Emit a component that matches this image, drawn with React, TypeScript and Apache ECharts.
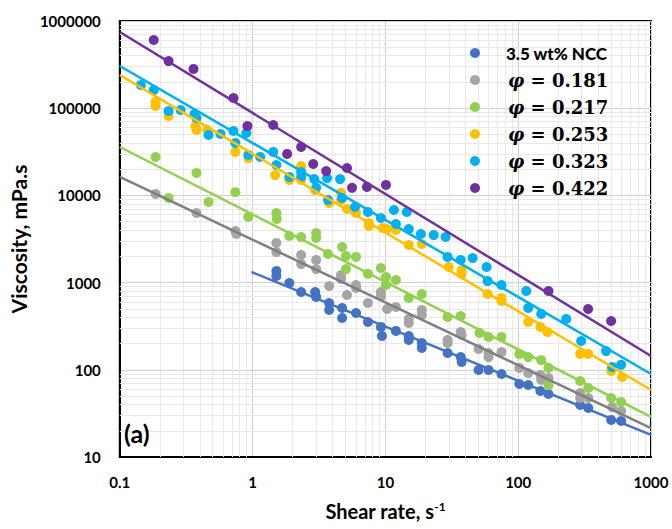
import React, { useEffect, useRef } from "react";
import * as echarts from "echarts";

// ---- data (shear rate [1/s], viscosity [mPa.s]) ----
const seriesNames = ["3.5 wt% NCC", "φ = 0.181", "φ = 0.217", "φ = 0.253", "φ = 0.323", "φ = 0.422"];
const seriesColors = ["#4472C4", "#A5A5A5", "#92D050", "#FFC000", "#00B0F0", "#7030A0"];
const lineColors = ["#4472C4", "#7F7F7F", "#92D050", "#FFC000", "#00B0F0", "#7030A0"];

const ncc = [
  [1.51, 1360], [1.51, 1190], [1.89, 989], [2.32, 780], [2.96, 780], [3.01, 684], [3.77, 583], [3.77, 485],
  [4.72, 511], [4.72, 393], [6.01, 448], [7.39, 353], [9.25, 310], [9.42, 244], [12.0, 279], [15.0, 244],
  [15.0, 220], [18.8, 203], [18.8, 178], [29.4, 156], [36.9, 140], [37.5, 123], [50.3, 99.5], [59.8, 99.5],
  [74.9, 89.5], [102, 68.7], [119, 67], [147, 57.1], [169, 52.8], [293, 39.5], [337, 36.5], [501, 26.6], [596, 25.9],
];
const phi181 = [
  [0.186, 10400], [0.378, 6290], [0.742, 3910], [0.755, 3610], [1.51, 2850], [1.51, 2240], [2.32, 2070], [2.32, 1630],
  [3.01, 1820], [3.01, 1430], [3.77, 914], [4.63, 1220], [4.63, 1100], [5.14, 721], [6.01, 938], [6.01, 867],
  [7.39, 583], [9.25, 780], [9.25, 702], [10.3, 498], [12.0, 525], [15.0, 383], [15.0, 344], [18.8, 485],
  [18.8, 425], [29.4, 220], [29.4, 203], [36.9, 271], [37.5, 251], [50.3, 173], [59.8, 156], [59.8, 140],
  [74.9, 160], [102, 105], [119, 91.9], [147, 87.2], [149, 76.4], [169, 80.5], [293, 54.2], [293, 47.5],
  [337, 47.5], [510, 37.4], [596, 33.7],
];
const phi217 = [
  [0.186, 27600], [0.233, 9330], [0.378, 18100], [0.466, 8400], [0.742, 10900], [0.929, 5650], [1.51, 6290],
  [1.52, 5360], [1.89, 3420], [2.32, 3330], [3.01, 3700], [3.01, 3250], [3.7, 2130], [4.72, 2560], [5.05, 2020],
  [6.01, 1970], [5.05, 1430], [7.39, 1260], [9.25, 1470], [10.1, 1160], [10.1, 938], [12.0, 1070], [15.0, 666],
  [18.8, 740], [29.4, 403], [36.9, 414], [51.2, 264], [59.8, 238], [74.9, 238], [102, 152], [119, 140],
  [149, 129], [169, 105], [169, 67], [293, 74.4], [337, 61.8], [501, 47.5], [596, 42.7],
];
const phi253 = [
  [0.186, 118000], [0.186, 106000], [0.233, 81400], [0.371, 62500], [0.378, 56200], [0.457, 56200], [0.742, 31500],
  [0.929, 26800], [1.48, 17100], [1.89, 15000], [2.32, 21700], [2.32, 15000], [2.96, 11500], [3.77, 8180],
  [4.63, 10700], [4.63, 8850], [5.14, 6980], [6.01, 6290], [7.52, 4820], [7.52, 4460], [9.57, 4230], [10.3, 4120],
  [12.0, 4010], [15.0, 2700], [18.8, 2770], [30.0, 1510], [37.5, 1390], [37.5, 1260], [58.8, 740], [74.9, 666],
  [74.9, 615], [119, 353], [147, 310], [166, 271], [293, 152], [337, 152], [501, 96.9], [606, 82.6],
];
const phi323 = [
  [0.144, 184500], [0.18, 161800], [0.233, 92900], [0.287, 95300], [0.365, 85800], [0.378, 77200], [0.466, 49300],
  [0.573, 50600], [0.717, 54800], [0.742, 39900], [0.898, 52000], [0.929, 29100], [1.14, 27600], [1.43, 31500],
  [1.51, 22300], [1.89, 16300], [2.32, 18500], [2.32, 16300], [2.91, 15400], [3.01, 12200], [3.64, 15800],
  [3.7, 8850], [4.56, 15400], [4.72, 9330], [5.9, 7360], [7.39, 6450], [9.25, 5500], [11.6, 6800], [12.0, 4700],
  [14.5, 6450], [15.0, 4120], [18.5, 3610], [23.1, 3510], [28.4, 3330], [29.4, 1970], [36.9, 1820], [45.4, 1910],
  [57.8, 1510], [58.8, 1040], [74.9, 938], [115, 801], [119, 511], [149, 437], [230, 383], [298, 214],
  [459, 164], [510, 108], [596, 114],
];
const phi422 = [
  [0.18, 605000], [0.233, 347000], [0.359, 282000], [0.718, 131000], [0.914, 62500], [1.43, 64100], [1.82, 29900],
  [2.32, 35900], [2.86, 22900], [3.58, 19000], [5.14, 20600], [5.61, 12200], [7.26, 12500], [10.1, 13200],
  [169, 801], [336, 498], [501, 363],
];
const scatterData = [ncc, phi181, phi217, phi253, phi323, phi422];

// power-law trend lines, end points
const fitNcc = [[0.98, 1325], [1000, 17.9]];
const fit181 = [[0.1, 16300], [1000, 21.5]];
const fit217 = [[0.1, 35900], [1000, 28.8]];
const fit253 = [[0.1, 240000], [1000, 58.6]];
const fit323 = [[0.1, 305000], [1000, 89.6]];
const fit422 = [[0.1, 748000], [1000, 144]];
const fitData = [fitNcc, fit181, fit217, fit253, fit323, fit422];

const xRange = [0.1, 1000];
const yRange = [10, 1000000];

function minorValues(fromExp: number, toExp: number) {
  const out: number[] = [];
  for (let k = fromExp; k < toExp; k++) {
    for (let m = 2; m <= 9; m++) out.push(Number((m * Math.pow(10, k)).toPrecision(3)));
  }
  return out;
}

const fmt = (v: number) => String(Number(Number(v).toPrecision(6)));

export default function App() {
  const ref = useRef<HTMLDivElement>(null);
  useEffect(() => {
    const chart = echarts.init(ref.current!, null, { renderer: "svg" });
    const minorX = minorValues(-1, 3);
    const minorY = minorValues(1, 6);
    const series: any[] = [
      {
        name: "minor-grid",
        type: "line",
        data: [[1, 100]],
        symbol: "none",
        lineStyle: { opacity: 0 },
        z: 1,
        silent: true,
        markLine: {
          silent: true,
          z: 1,
          symbol: ["none", "none"],
          label: { show: false },
          lineStyle: { color: "#e8e8e8", width: 1, type: "solid" },
          emphasis: { disabled: true },
          data: [...minorX.map((v) => ({ xAxis: v })), ...minorY.map((v) => ({ yAxis: v }))],
        },
      },
    ];
    scatterData.forEach((d, i) => {
      series.push({
        name: seriesNames[i],
        type: "scatter",
        data: d,
        symbol: "circle",
        symbolSize: 10,
        itemStyle: { color: seriesColors[i], opacity: 1 },
        z: 3,
      });
    });
    fitData.forEach((d, i) => {
      series.push({
        name: "fit-" + i,
        type: "line",
        data: d,
        symbol: "none",
        lineStyle: { color: lineColors[i], width: 2.5 },
        z: 4,
        silent: true,
      });
    });
    const labelFont = { fontFamily: "Lato", fontWeight: "bold", fontSize: 15, color: "#000" };
    chart.setOption({
      animation: false,
      grid: {
        left: 118,
        right: 21,
        top: 21,
        bottom: 72,
        show: true,
        borderColor: "#000",
        borderWidth: 2,
        backgroundColor: "#fff",
      },
      xAxis: {
        type: "log",
        logBase: 10,
        min: xRange[0],
        max: xRange[1],
        axisLine: { show: true, lineStyle: { color: "#000", width: 2 } },
        axisTick: { show: false },
        splitLine: { show: true, lineStyle: { color: "#d0d0d0", width: 1 } },
        axisLabel: { ...labelFont, margin: 17, formatter: fmt },
        name: "{a|Shear rate, s}{s|-1}",
        nameLocation: "middle",
        nameGap: 43,
        nameTextStyle: {
          rich: {
            a: { fontFamily: "Lato", fontWeight: "bold", fontSize: 20, color: "#000" },
            s: { fontFamily: "Lato", fontWeight: "bold", fontSize: 12, color: "#000", padding: [0, 0, 10, 0] },
          },
        },
      },
      yAxis: {
        type: "log",
        logBase: 10,
        min: yRange[0],
        max: yRange[1],
        axisLine: { show: true, lineStyle: { color: "#000", width: 2 } },
        axisTick: { show: false },
        splitLine: { show: true, lineStyle: { color: "#d0d0d0", width: 1 } },
        axisLabel: { ...labelFont, margin: 19, formatter: fmt },
        name: "Viscosity, mPa.s",
        nameLocation: "middle",
        nameGap: 87,
        nameTextStyle: { fontFamily: "Lato", fontWeight: "bold", fontSize: 21, color: "#000" },
      },
      legend: {
        data: seriesNames,
        orient: "vertical",
        left: 470,
        top: 43,
        itemWidth: 12,
        itemHeight: 10,
        itemGap: 7,
        icon: "circle",
        selectedMode: false,
        padding: 0,
        z: 6,
        formatter: (name: string) =>
          name.startsWith("φ") ? "{p|φ}{n|" + name.slice(1) + "}" : "{c|" + name + "}",
        textStyle: {
          lineHeight: 20,
          rich: {
            c: { fontFamily: "Lato", fontWeight: 900, fontSize: 17, color: "#000", padding: [0, 0, 0, 20], lineHeight: 20 },
            p: { fontFamily: "DejaVu Serif", fontStyle: "italic", fontWeight: "bold", fontSize: 18, color: "#000", padding: [0, 0, 0, 22], lineHeight: 20 },
            n: { fontFamily: "DejaVu Serif", fontWeight: "bold", fontSize: 18, color: "#000", lineHeight: 20 },
          },
        },
      },
      graphic: [
        {
          type: "text",
          left: 124,
          top: 420,
          style: { text: "(a)", font: "bold 25px Lato", fill: "#000" },
          z: 10,
        },
      ],
      series,
    });
    return () => chart.dispose();
  }, []);
  return <div ref={ref} style={{ position: "fixed", left: 0, top: 0, width: 672, height: 529, background: "#fff" }} />;
}
